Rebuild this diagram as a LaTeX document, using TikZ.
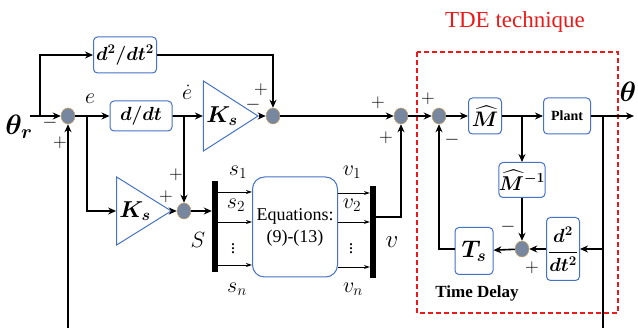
\documentclass[tikz,border=0pt]{standalone}
\usepackage{fix-cm}
\usepackage{amsmath,bm}
\usepackage{fontspec}
\setmainfont{Liberation Serif}
\newfontfamily\tnr{Liberation Serif}
\usepackage{tikz}
\usetikzlibrary{arrows.meta,positioning,shapes.geometric}
\definecolor{blkblue}{RGB}{68,114,196}
\definecolor{sumfill}{RGB}{120,135,160}
\definecolor{sumedge}{RGB}{205,165,95}
\definecolor{tdered}{RGB}{235,25,25}

\begin{document}
\begin{tikzpicture}[x=1pt, y=-1pt,
    blk/.style={draw=blkblue, line width=1pt, rounded corners=4pt, fill=white, align=center, inner sep=0pt},
    gain/.style={isosceles triangle, isosceles triangle stretches, shape border rotate=0, draw=blkblue, line width=1pt, minimum width=70pt, minimum height=39pt, inner sep=0pt, font=\fontsize{23}{23}\selectfont},
    sumpt/.style={ellipse, fill=sumfill, draw=sumedge, line width=0.5pt, minimum width=14pt, minimum height=16pt, inner sep=0pt},
    busbar/.style={fill=black, minimum width=6pt, inner sep=0pt},
    arr/.style={-{Stealth[length=8pt,width=7pt]}, line width=1.6pt},
    ln/.style={line width=1.6pt},
    busarr/.style={-{Stealth[length=6pt,width=4pt]}, line width=0.9pt},
    sgn/.style={font=\fontsize{19}{19}\selectfont, inner sep=0pt},
    lbl/.style={font=\fontsize{22}{22}\selectfont, inner sep=0pt}
]
\useasboundingbox (0,0) rectangle (638,328);
% main loop
\node[font=\fontsize{28}{28}\selectfont, inner sep=0pt] (thr) at (19,127) {$\bm{\theta_r}$};
\coordinate (in) at (30,116);
\node[sumpt] (sm1) at (68,116) {};
\node[blk, minimum width=63pt, minimum height=36pt, font=\fontsize{19}{19}\selectfont] (dd2) at (125,55) {$\bm{d^2/dt^2}$};
\node[blk, minimum width=62pt, minimum height=30pt, font=\fontsize{19}{19}\selectfont] (dd1) at (141,116) {$\bm{d/dt}$};
\node[gain] (ks1) at (222,116) {$\bm{K_s}$};
\node[sumpt] (sm2) at (273,116) {};
\node[sumpt] (sm4) at (401,116) {};
\node[sumpt] (sm5) at (439,116) {};
\node[blk, minimum width=33pt, minimum height=36pt, font=\fontsize{21}{21}\selectfont] (mh) at (485,116) {$\bm{\widehat{M}}$};
\node[blk, minimum width=47pt, minimum height=36pt, font=\tnr\bfseries\fontsize{14}{14}\selectfont] (plant) at (567,116) {Plant};
\coordinate (out) at (634,116);
\node[font=\fontsize{28}{28}\selectfont, inner sep=0pt] (th) at (628,92) {$\bm{\theta}$};
% time delay estimation
\node[blk, minimum width=46pt, minimum height=35pt, font=\fontsize{20}{20}\selectfont] (mhi) at (522,180) {$\bm{\widehat{M}^{-1}}$};
\node[sumpt] (sm6) at (522,249) {};
\node[blk, minimum width=33pt, minimum height=63pt, font=\fontsize{19}{19}\selectfont] (dd3) at (563,249) {$\bm{\dfrac{d^2}{dt^2}}$};
\node[blk, minimum width=38pt, minimum height=47pt, font=\fontsize{24}{24}\selectfont] (ts) at (474,251) {$\bm{T_s}$};
\node[font=\tnr\bfseries\fontsize{17}{17}\selectfont, inner sep=0pt] (tdl) at (477,293) {Time Delay};
\draw[tdered, line width=1.2pt, dash pattern=on 5pt off 3pt] (417,52) rectangle (618,313);
\node[text=tdered, font=\tnr\fontsize{23}{23}\selectfont, inner sep=0pt] (tdet) at (515,22) {TDE technique};
% sliding surface
\node[gain, minimum width=68pt, minimum height=40pt] (ks2) at (135,211) {$\bm{K_s}$};
\node[sumpt] (sm3) at (184,211) {};
\node[busbar, minimum height=91pt] (bs) at (215,227) {};
\node[blk, rounded corners=12pt, minimum width=85pt, minimum height=100pt, font=\tnr\fontsize{18}{22}\selectfont] (eq) at (295,227) {Equations:\\(9)-(13)};
\node[busbar, minimum height=92pt] (bv) at (373,232) {};

\coordinate (br0) at (40,116);
\coordinate (br1) at (87,116);
\coordinate (br2) at (184,116);
\coordinate (br4) at (522,116);
\coordinate (br5) at (603,116);
\coordinate (fbin) at (68,328);
\coordinate (fbout) at (603,328);

\draw[arr] (in) -- (sm1);
\draw[arr] (br0) |- (dd2);
\draw[arr] (dd2) -| (sm2);
\draw[arr] (sm1) -- (dd1);
\draw[arr] (dd1.east) -- (ks1.west);
\draw[arr] (ks1.apex) -- (sm2);
\draw[arr] (sm2) -- (sm4);
\draw[arr] (sm4) -- (sm5);
\draw[arr] (sm5) -- (mh);
\draw[arr] (mh) -- (plant);
\draw[arr] (plant) -- (out);
\draw[arr] (br4) -- (mhi);
\draw[arr] (mhi) -- (sm6);
\draw[ln] (br5) -- (fbout);
\draw[arr] (br5 |- dd3) -- (dd3);
\draw[arr] (dd3) -- (sm6);
\draw[arr] (sm6) -- (ts);
\draw[arr] (ts.west |- sm6) -| (sm5);
\draw[arr] (fbin) -- (sm1);
\draw[arr] (br1) |- (ks2.west);
\draw[arr] (ks2.apex) -- (sm3);
\draw[arr] (br2) -- (sm3);
\draw[arr] (sm3) -- (sm3 -| bs.west);
\foreach \yy in {192,222,265}
  \draw[busarr] (bs.east |- 0,\yy) -- (eq.west |- 0,\yy);
\foreach \yy in {193,222,267}
  \draw[busarr] (eq.east |- 0,\yy) -- (bv.west |- 0,\yy);
\draw[arr] (bv.east |- 0,217) -| (sm4);

% signal labels
\node[lbl] (le) at (90,99) {$e$};
\node[lbl] (led) at (187,92) {$\dot{e}$};
\node[lbl] (ls1) at (238,172) {$s_1$};
\node[lbl] (ls2) at (236,205) {$s_2$};
\node[lbl, font=\fontsize{18}{18}\selectfont] (lsd) at (233,246) {$\vdots$};
\node[lbl] (lsn) at (237,289) {$s_n$};
\node[lbl] (lS) at (198,240) {$S$};
\node[lbl] (lv1) at (352,172) {$v_1$};
\node[lbl] (lv2) at (352,205) {$v_2$};
\node[lbl, font=\fontsize{18}{18}\selectfont] (lvd) at (351,246) {$\vdots$};
\node[lbl] (lvn) at (353,289) {$v_n$};
\node[lbl, font=\fontsize{25}{25}\selectfont] (lv) at (392,242) {$v$};
% signs
\node[sgn] at (50,123) {$-$};
\node[sgn] at (60,143) {$+$};
\node[sgn] at (261,90) {$+$};
\node[sgn] at (253,105) {$-$};
\node[sgn] at (166,197) {$+$};
\node[sgn] at (176,175) {$+$};
\node[sgn] at (378,103) {$+$};
\node[sgn] at (386,138) {$+$};
\node[sgn] at (428,99) {$+$};
\node[sgn] at (452,140) {$-$};
\node[sgn] at (508,227) {$-$};
\node[sgn] at (532,268) {$+$};
\end{tikzpicture}
\end{document}
